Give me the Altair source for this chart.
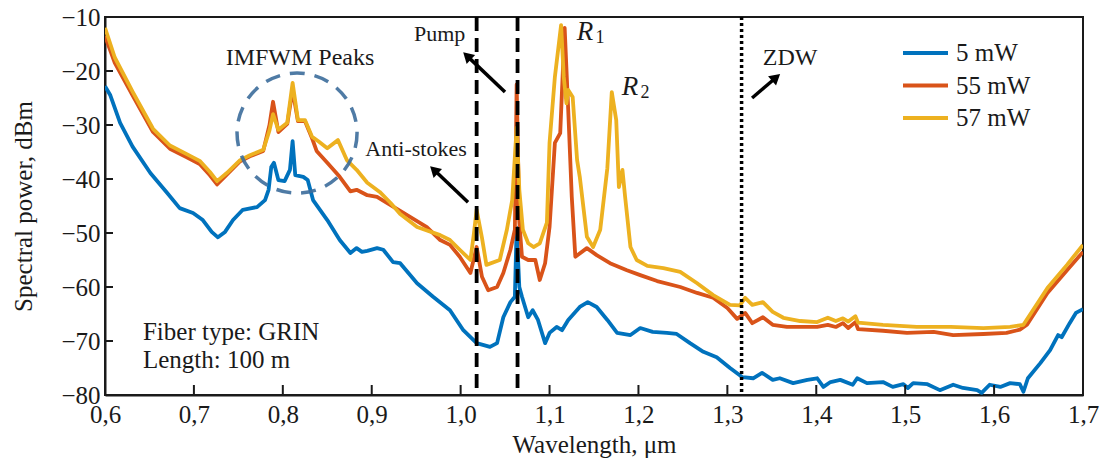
import altair as alt
import pandas as pd

# ---------------- data ----------------
series_names = ["5 mW", "55 mW", "57 mW"]
series_colors = ["#0072BD", "#D95319", "#EDB120"]

wl_5 = [0.600, 0.606, 0.617, 0.631, 0.651, 0.670, 0.684, 0.699, 0.710, 0.720, 0.727, 0.735, 0.744, 0.755,
        0.771, 0.780, 0.784, 0.787, 0.790, 0.795, 0.802, 0.808, 0.811, 0.814, 0.823, 0.828, 0.834, 0.850,
        0.864, 0.876, 0.883, 0.889, 0.895, 0.906, 0.913, 0.924, 0.932, 0.951, 0.969, 0.988, 1.003, 1.018,
        1.033, 1.041, 1.048, 1.056, 1.061, 1.063, 1.066, 1.069, 1.076, 1.081, 1.087, 1.095, 1.100, 1.108,
        1.114, 1.121, 1.134, 1.143, 1.153, 1.165, 1.176, 1.191, 1.202, 1.216, 1.232, 1.243, 1.258, 1.273,
        1.288, 1.303, 1.317, 1.329, 1.339, 1.351, 1.359, 1.374, 1.390, 1.401, 1.408, 1.416, 1.427, 1.441,
        1.446, 1.457, 1.475, 1.486, 1.498, 1.503, 1.509, 1.525, 1.539, 1.554, 1.565, 1.581, 1.586, 1.595,
        1.607, 1.618, 1.629, 1.633, 1.638, 1.652, 1.663, 1.672, 1.676, 1.685, 1.692, 1.700]
p_5 = [-22.8, -24.5, -29.6, -34.0, -38.9, -42.6, -45.4, -46.3, -47.6, -49.8, -50.8, -49.8, -47.6, -45.7,
       -45.2, -43.9, -42.0, -37.8, -37.0, -40.2, -40.4, -38.3, -33.0, -39.3, -39.6, -40.2, -43.9, -47.6,
       -51.3, -53.7, -52.8, -53.5, -53.3, -52.8, -53.1, -55.4, -55.6, -59.3, -61.8, -64.3, -68.0, -70.4,
       -71.1, -70.4, -65.6, -62.8, -61.8, -49.0, -60.0, -61.8, -65.6, -64.3, -66.1, -70.4, -68.5, -67.4,
       -68.0, -66.1, -63.7, -62.8, -63.7, -66.1, -68.5, -68.9, -67.6, -68.3, -68.5, -68.7, -70.4, -72.0,
       -73.0, -75.0, -76.7, -76.9, -75.9, -77.2, -76.9, -77.8, -77.2, -76.9, -78.5, -77.6, -77.2, -78.1,
       -76.9, -77.8, -77.6, -78.5, -78.0, -78.7, -77.8, -78.0, -79.1, -78.1, -78.7, -79.1, -79.6, -78.1,
       -78.5, -77.8, -78.0, -79.4, -76.9, -74.1, -71.7, -68.9, -69.3, -66.7, -64.8, -64.1]

wl_55 = [0.600, 0.611, 0.631, 0.654, 0.673, 0.692, 0.707, 0.718, 0.726, 0.737, 0.752, 0.763, 0.778, 0.785,
         0.789, 0.795, 0.805, 0.811, 0.817, 0.825, 0.833, 0.838, 0.850, 0.864, 0.876, 0.883, 0.895, 0.906,
         0.917, 0.932, 0.962, 0.977, 0.988, 0.999, 1.011, 1.018, 1.024, 1.031, 1.041, 1.048, 1.056, 1.061,
         1.063, 1.066, 1.069, 1.076, 1.084, 1.089, 1.095, 1.100, 1.106, 1.112, 1.117, 1.121, 1.125, 1.129,
         1.142, 1.153, 1.168, 1.187, 1.202, 1.221, 1.247, 1.266, 1.284, 1.300, 1.311, 1.320, 1.328, 1.340,
         1.351, 1.367, 1.401, 1.413, 1.422, 1.430, 1.436, 1.444, 1.447, 1.475, 1.502, 1.532, 1.554, 1.588,
         1.614, 1.629, 1.637, 1.660, 1.682, 1.700]
p_55 = [-13.5, -18.5, -24.5, -31.3, -34.4, -36.0, -37.3, -39.3, -41.0, -39.2, -36.7, -35.8, -34.8, -30.0,
        -25.7, -31.3, -29.8, -23.5, -29.3, -29.3, -32.5, -34.8, -37.0, -39.6, -42.3, -42.0, -43.0, -43.3,
        -44.4, -45.9, -48.9, -51.3, -52.2, -54.4, -57.4, -52.6, -58.1, -60.6, -60.0, -57.4, -53.1, -49.4,
        -22.5, -48.0, -54.4, -55.0, -55.0, -58.7, -55.6, -48.9, -33.3, -31.5, -12.0, -27.2, -43.3, -54.4,
        -52.8, -54.1, -55.6, -56.9, -57.8, -58.9, -60.0, -61.1, -62.0, -63.9, -65.9, -64.8, -66.7, -65.6,
        -67.0, -67.4, -67.4, -67.0, -67.4, -66.7, -67.6, -66.5, -67.8, -68.1, -68.5, -68.3, -68.9, -68.7,
        -68.5, -67.9, -67.0, -61.1, -56.9, -53.5]

wl_57 = [0.600, 0.611, 0.631, 0.654, 0.673, 0.692, 0.707, 0.718, 0.726, 0.737, 0.752, 0.763, 0.778, 0.785,
         0.789, 0.795, 0.805, 0.811, 0.817, 0.825, 0.833, 0.840, 0.850, 0.862, 0.872, 0.883, 0.895, 0.909,
         0.921, 0.932, 0.951, 0.977, 0.988, 0.999, 1.011, 1.015, 1.018, 1.024, 1.029, 1.044, 1.052, 1.058,
         1.063, 1.066, 1.070, 1.076, 1.082, 1.089, 1.097, 1.100, 1.106, 1.113, 1.116, 1.119, 1.121, 1.126,
         1.131, 1.134, 1.142, 1.149, 1.157, 1.165, 1.170, 1.175, 1.178, 1.182, 1.185, 1.191, 1.198, 1.210,
         1.228, 1.247, 1.266, 1.284, 1.303, 1.314, 1.320, 1.328, 1.340, 1.351, 1.363, 1.382, 1.401, 1.413,
         1.422, 1.430, 1.436, 1.444, 1.447, 1.475, 1.513, 1.551, 1.588, 1.618, 1.633, 1.660, 1.682, 1.700]
p_57 = [-12.0, -17.5, -23.8, -30.7, -33.8, -35.4, -36.7, -38.7, -40.4, -38.9, -36.5, -35.6, -34.6, -31.0,
        -28.0, -30.9, -29.6, -22.2, -29.1, -29.1, -32.2, -33.0, -34.3, -32.8, -36.5, -38.3, -40.7, -42.4,
        -44.4, -46.5, -48.9, -50.4, -51.3, -53.1, -55.0, -50.0, -45.7, -50.9, -55.9, -55.0, -49.4, -43.9,
        -30.5, -42.0, -49.4, -51.9, -52.6, -51.9, -48.1, -33.3, -21.1, -11.5, -21.1, -26.0, -23.5, -24.8,
        -36.5, -39.6, -50.7, -52.6, -49.4, -38.0, -23.9, -29.1, -41.5, -38.3, -43.3, -52.6, -55.0, -56.1,
        -56.5, -57.2, -59.3, -61.5, -63.3, -63.4, -62.0, -63.3, -62.8, -64.6, -65.7, -66.3, -66.5, -65.7,
        -66.3, -65.8, -66.4, -65.4, -66.6, -67.0, -67.4, -67.4, -67.6, -67.4, -67.0, -60.2, -55.9, -52.2]

x_ticks = [0.6, 0.7, 0.8, 0.9, 1.0, 1.1, 1.2, 1.3, 1.4, 1.5, 1.6, 1.7]
y_ticks = [-80, -70, -60, -50, -40, -30, -20, -10]

pump_lines = [1.018, 1.064]
zdw_line = [1.316]

label_text = ["IMFWM Peaks", "Pump", "Anti-stokes", "ZDW"]
label_x = [0.8193, 0.9763, 0.9498, 1.3705]
label_y = [-18.9, -14.4, -35.7, -18.9]
label_size = [24, 22, 22, 24]

info_text = ["Fiber type: GRIN", "Length: 100 m"]
info_x = [0.6427, 0.6427]
info_y = [-69.8, -75.0]

r_text = ["R", "R"]
r_x = [1.140, 1.1906]
r_y = [-14.3, -24.4]
r_sub = ["1", "2"]
r_sub_x = [1.1568, 1.2074]
r_sub_y = [-14.9, -25.0]

arrow_x = [1.0499, 1.0083, 1.3278]
arrow_y = [-23.9, -44.3, -25.0]
arrow_x2 = [1.0072, 0.9700, 1.3548]
arrow_y2 = [-17.2, -38.3, -21.2]
arrow_angle = [313.6, 313.5, 49.4]

circle_x = [0.816]
circle_y = [-31.5]

# ---------------- tables ----------------
rows = []
for name, xs_, ys_ in zip(series_names, [wl_5, wl_55, wl_57], [p_5, p_55, p_57]):
    for a, b in zip(xs_, ys_):
        rows.append({"wl": a, "p": b, "series": name})
df = pd.DataFrame(rows)

FONT = "Liberation Serif"
INK = "#1a1a1a"

xs = alt.Scale(domain=[0.6, 1.7], nice=False, zero=False)
ys = alt.Scale(domain=[-80, -10], nice=False, zero=False)
cs = alt.Scale(domain=series_names, range=series_colors)

base = alt.Chart(df)


def series_layer(name):
    return base.transform_filter(alt.datum.series == name).mark_line(
        strokeWidth=3.8, strokeJoin="round", clip=True
    ).encode(
        x=alt.X("wl:Q", scale=xs, axis=alt.Axis(
            values=x_ticks, ticks=False, grid=False, labelFlush=False,
            labelExpr="replace(format(datum.value, '.1f'), '.', ',')",
            title="Wavelength, μm", labelPadding=7, titlePadding=5)),
        y=alt.Y("p:Q", scale=ys, axis=alt.Axis(
            values=y_ticks, ticks=False, grid=False, labelFlush=False,
            title="Spectral power, dBm", labelPadding=5, titlePadding=24)),
        color=alt.Color("series:N", scale=cs, legend=None),
    )


lines = [series_layer(n) for n in series_names]

xtick_df = pd.DataFrame({"v": x_ticks[1:-1]})
ytick_df = pd.DataFrame({"v": y_ticks[1:-1]})
xticks = alt.Chart(xtick_df).mark_rule(color=INK, strokeWidth=2).encode(
    x=alt.X("v:Q", scale=xs), y=alt.value(368), y2=alt.value(378))
yticks = alt.Chart(ytick_df).mark_rule(color=INK, strokeWidth=2).encode(
    y=alt.Y("v:Q", scale=ys), x=alt.value(0), x2=alt.value(8))

pump = alt.Chart(pd.DataFrame({"v": pump_lines})).mark_rule(
    color="black", strokeWidth=3.8, strokeDash=[14, 7]).encode(x=alt.X("v:Q", scale=xs))
zdw = alt.Chart(pd.DataFrame({"v": zdw_line})).mark_rule(
    color="black", strokeWidth=3.5, strokeDash=[3, 3]).encode(x=alt.X("v:Q", scale=xs))

circle = alt.Chart(pd.DataFrame({"x": circle_x, "y": circle_y})).mark_point(
    shape="circle", size=14400, filled=False, stroke="#3d6d9c", strokeWidth=3.5,
    strokeDash=[15, 10], opacity=0.9).encode(
    x=alt.X("x:Q", scale=xs), y=alt.Y("y:Q", scale=ys))

lab_df = pd.DataFrame({"x": label_x, "y": label_y, "t": label_text, "s": label_size})
labels = alt.Chart(lab_df).mark_text(
    font=FONT, color=INK, align="center", baseline="alphabetic").encode(
    x=alt.X("x:Q", scale=xs), y=alt.Y("y:Q", scale=ys), text="t:N",
    size=alt.Size("s:Q", scale=None, legend=None))

info = alt.Chart(pd.DataFrame({"x": info_x, "y": info_y, "t": info_text})).mark_text(
    font=FONT, color=INK, fontSize=25, align="left", baseline="alphabetic").encode(
    x=alt.X("x:Q", scale=xs), y=alt.Y("y:Q", scale=ys), text="t:N")

rlab = alt.Chart(pd.DataFrame({"x": r_x, "y": r_y, "t": r_text})).mark_text(
    font=FONT, color=INK, fontSize=27, fontStyle="italic", align="center", baseline="alphabetic").encode(
    x=alt.X("x:Q", scale=xs), y=alt.Y("y:Q", scale=ys), text="t:N")
rsub = alt.Chart(pd.DataFrame({"x": r_sub_x, "y": r_sub_y, "t": r_sub})).mark_text(
    font=FONT, color=INK, fontSize=18, align="center", baseline="alphabetic").encode(
    x=alt.X("x:Q", scale=xs), y=alt.Y("y:Q", scale=ys), text="t:N")

arr_df = pd.DataFrame({"x": arrow_x, "y": arrow_y, "x2": arrow_x2, "y2": arrow_y2, "a": arrow_angle})
arr_lines = alt.Chart(arr_df).mark_rule(color="black", strokeWidth=3.5).encode(
    x=alt.X("x:Q", scale=xs), y=alt.Y("y:Q", scale=ys), x2="x2:Q", y2="y2:Q")
arr_heads = alt.Chart(arr_df).mark_point(
    shape="triangle-up", filled=True, size=150, color="black", opacity=1).encode(
    x=alt.X("x2:Q", scale=xs), y=alt.Y("y2:Q", scale=ys),
    angle=alt.Angle("a:Q", scale=None))

main = alt.layer(*lines, xticks, yticks, circle, pump, zdw, arr_lines, arr_heads,
                 labels, info, rlab, rsub)

leg_df = pd.DataFrame({"series": series_names})
leg_y = alt.Y("series:N", scale=alt.Scale(type="point", domain=series_names, range=[36, 101], padding=0),
              axis=None)
leg_lines = alt.Chart(leg_df).mark_rule(strokeWidth=4).encode(
    x=alt.value(798), x2=alt.value(843), y=leg_y,
    color=alt.Color("series:N", scale=cs, legend=None))
leg_text = alt.Chart(leg_df).mark_text(
    font=FONT, fontSize=25, color=INK, align="left", baseline="middle").encode(
    x=alt.value(851), y=leg_y, text="series:N")
legend = alt.layer(leg_lines, leg_text)

chart = alt.layer(main, legend).resolve_scale(y="independent").properties(
    width=978, height=378,
    autosize=alt.AutoSizeParams(type="none"),
    padding={"left": 105, "top": 17, "right": 19, "bottom": 69},
    background="white",
).configure_view(stroke=INK, strokeWidth=2).configure_axis(
    domainColor=INK, domainWidth=2, labelFont=FONT, titleFont=FONT,
    labelFontSize=25, titleFontSize=25, labelColor=INK, titleColor=INK,
    titleFontWeight="normal",
)

chart.save("out.html", embed_options={"renderer": "svg", "actions": False})
